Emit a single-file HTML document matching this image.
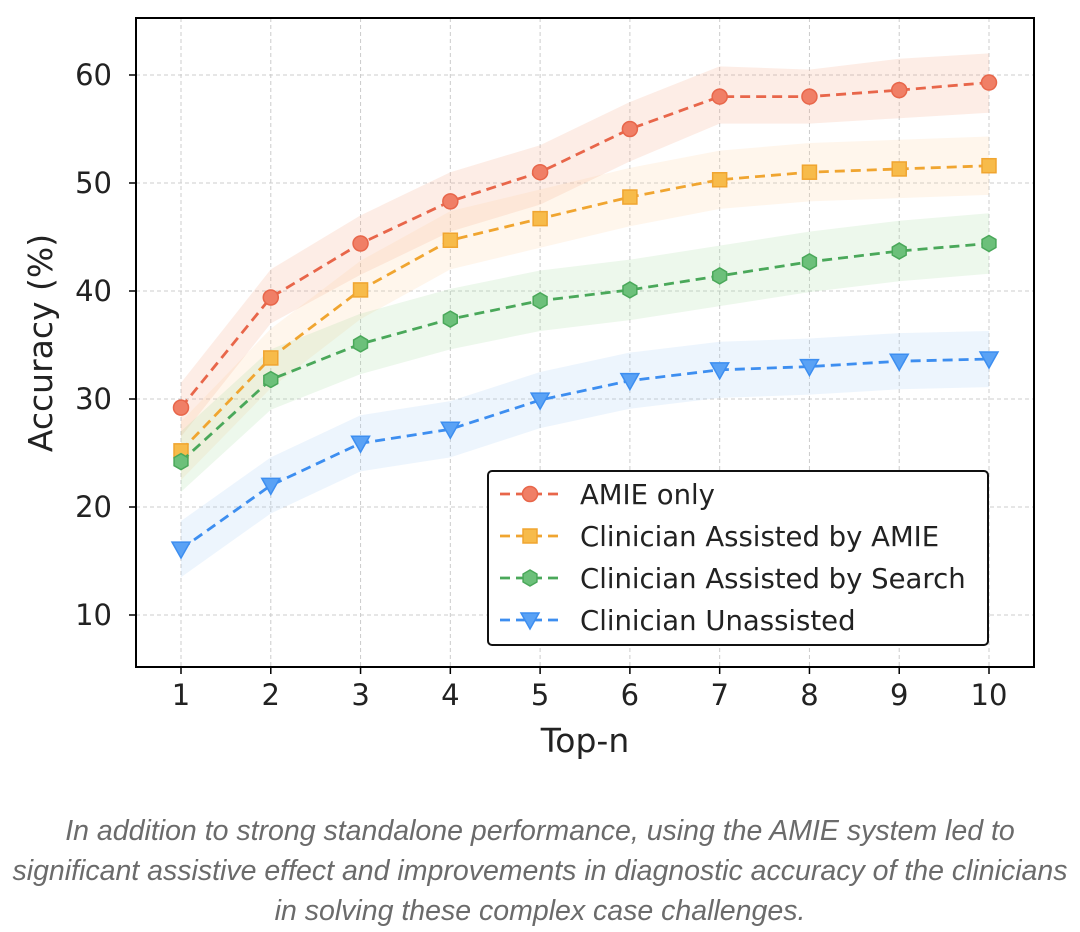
<!DOCTYPE html>
<html><head><meta charset="utf-8"><style>
body{margin:0;background:#fff;width:1080px;height:932px;overflow:hidden;font-family:"Liberation Sans","DejaVu Sans",sans-serif}
#cap{position:absolute;left:0;top:811px;width:1080px;text-align:center;font-style:italic;color:#6b6b6b;font-size:28.5px;line-height:40px;white-space:nowrap}
svg text{font-family:"DejaVu Sans","Liberation Sans",sans-serif}
</style></head><body>
<svg id="chart" width="1080" height="800" style="position:absolute;left:0;top:0"></svg>
<div id="cap">In addition to strong standalone performance, using the AMIE system led to<br>significant assistive effect and improvements in diagnostic accuracy of the clinicians<br>in solving these complex case challenges.</div>
<script>
const categories=[1,2,3,4,5,6,7,8,9,10];
const yTicks=[10,20,30,40,50,60];
const amie=[29.2,39.4,44.4,48.3,51.0,55.0,58.0,58.0,58.6,59.3];
const amieLo=[26.5,37,41.5,45.5,48,52,55.5,55.5,56,56.5];
const amieHi=[31.5,42,47,51,53.5,57.5,60.8,60.5,61.5,62];
const assistAmie=[25.2,33.8,40.1,44.7,46.7,48.7,50.3,51.0,51.3,51.6];
const assistAmieLo=[22.5,31,37.4,42,44,46,47.6,48.3,48.6,48.9];
const assistAmieHi=[27.9,36.5,42.8,47.4,49.4,51.4,53,53.7,54,54.3];
const search=[24.2,31.8,35.1,37.4,39.1,40.1,41.4,42.7,43.7,44.4];
const searchLo=[21.4,29,32.3,34.6,36.3,37.3,38.6,39.9,40.9,41.6];
const searchHi=[27,34.6,37.9,40.2,41.9,42.9,44.2,45.5,46.5,47.2];
const unassist=[16.1,22.0,25.9,27.2,29.9,31.7,32.7,33.0,33.5,33.7];
const unassistLo=[13.5,19.4,23.3,24.6,27.3,29.1,30.1,30.4,30.9,31.1];
const unassistHi=[18.7,24.6,28.5,29.8,32.5,34.3,35.3,35.6,36.1,36.3];
const seriesNames=["AMIE only","Clinician Assisted by AMIE","Clinician Assisted by Search","Clinician Unassisted"];

const NS="http://www.w3.org/2000/svg";
const svg=document.getElementById('chart');
const L=136,R=1034,T=18,B=667;
const xs=v=>181+(v-1)*(989-181)/9;
const ys=v=>615-(v-10)*10.8;
function mk(tag,attrs,parent){const e=document.createElementNS(NS,tag);for(const k in attrs)e.setAttribute(k,attrs[k]);(parent||svg).appendChild(e);return e;}
categories.forEach(c=>{const g=mk('line',{x1:xs(c),x2:xs(c),y1:T,y2:B,stroke:'#ccc','stroke-dasharray':'4,3','stroke-width':1});


mk('line',{x1:xs(c),x2:xs(c),y1:B,y2:B+7,stroke:'#000','stroke-width':1.5});
const lb=mk('text',{x:xs(c),y:B+38,'text-anchor':'middle','font-size':29,fill:'#222'});lb.textContent=c;

});
yTicks.forEach(v=>{const g=mk('line',{x1:L,x2:R,y1:ys(v),y2:ys(v),stroke:'#ccc','stroke-dasharray':'4,3','stroke-width':1});


mk('line',{x1:L-7,x2:L,y1:ys(v),y2:ys(v),stroke:'#000','stroke-width':1.5});
const lb=mk('text',{x:L-24,y:ys(v)+10,'text-anchor':'end','font-size':29,fill:'#222'});lb.textContent=v;

});
const series=[
 {d:amie,lo:amieLo,hi:amieHi,c:'#e8664a',f:'#f4a582',m:'circle',n:'amie-only'},
 {d:assistAmie,lo:assistAmieLo,hi:assistAmieHi,c:'#f0a530',f:'#fdd49e',m:'square',n:'clinician-assisted-amie'},
 {d:search,lo:searchLo,hi:searchHi,c:'#4aa85a',f:'#a6dba0',m:'hex',n:'clinician-assisted-search'},
 {d:unassist,lo:unassistLo,hi:unassistHi,c:'#3d8ef0',f:'#a6cdf7',m:'tri',n:'clinician-unassisted'}];
function marker(type,x,y,s,parent){
 const fillc={circle:'#f07f66',square:'#f7bb4a',hex:'#6cc07a',tri:'#5aa2f5'};
 let e;
 if(type==='circle')e=mk('circle',{cx:x,cy:y,r:7.5},parent);
 else if(type==='square')e=mk('rect',{x:x-7,y:y-7,width:14,height:14},parent);
 else if(type==='hex'){let p=[];for(let i=0;i<6;i++){const a=Math.PI/3*i+Math.PI/6;p.push((x+8*Math.cos(a))+','+(y+8*Math.sin(a)));}e=mk('polygon',{points:p.join(' ')},parent);}
 else e=mk('polygon',{points:`${x-9},${y-7} ${x+9},${y-7} ${x},${y+9}`},parent);
 e.setAttribute('fill',fillc[type]);e.setAttribute('stroke',s);e.setAttribute('stroke-width',1.5);
 return e;}
series.forEach(s=>{
 let p=categories.map((c,i)=>xs(c)+','+ys(s.hi[i])).concat(categories.map((c,i)=>xs(c)+','+ys(s.lo[i])).reverse());
 const b=mk('polygon',{points:p.join(' '),fill:s.f,'fill-opacity':0.2});
 
 });
series.forEach(s=>{
 const l=mk('polyline',{points:categories.map((c,i)=>xs(c)+','+ys(s.d[i])).join(' '),fill:'none',stroke:s.c,'stroke-width':2.8,'stroke-dasharray':'10,6'});
 
 
 categories.forEach((c,i)=>{const m=marker(s.m,xs(c),ys(s.d[i]),s.c);
 
 });});
mk('rect',{x:L,y:T,width:R-L,height:B-T,fill:'none',stroke:'#000','stroke-width':2});
const xt=mk('text',{x:585,y:752,'text-anchor':'middle','font-size':33,fill:'#222'});xt.textContent='Top-n';


const yt=mk('text',{x:0,y:0,'text-anchor':'middle','font-size':33,fill:'#222',transform:'translate(52,343) rotate(-90)'});yt.textContent='Accuracy (%)';


const lg=mk('g',{});


mk('rect',{x:488,y:471,width:500,height:174,rx:4,fill:'#fff',stroke:'#111','stroke-width':2},lg);
series.forEach((s,i)=>{const y=494+i*42;
 const e=mk('g',{},lg);
 
 
 mk('line',{x1:500,x2:560,y1:y,y2:y,stroke:s.c,'stroke-width':2.8,'stroke-dasharray':'10,6'},e);
 marker(s.m,530,y,s.c,e);
 const t=mk('text',{x:580,y:y+10,'font-size':27.5,fill:'#222'},e);t.textContent=seriesNames[i];});
</script>
</body></html>
